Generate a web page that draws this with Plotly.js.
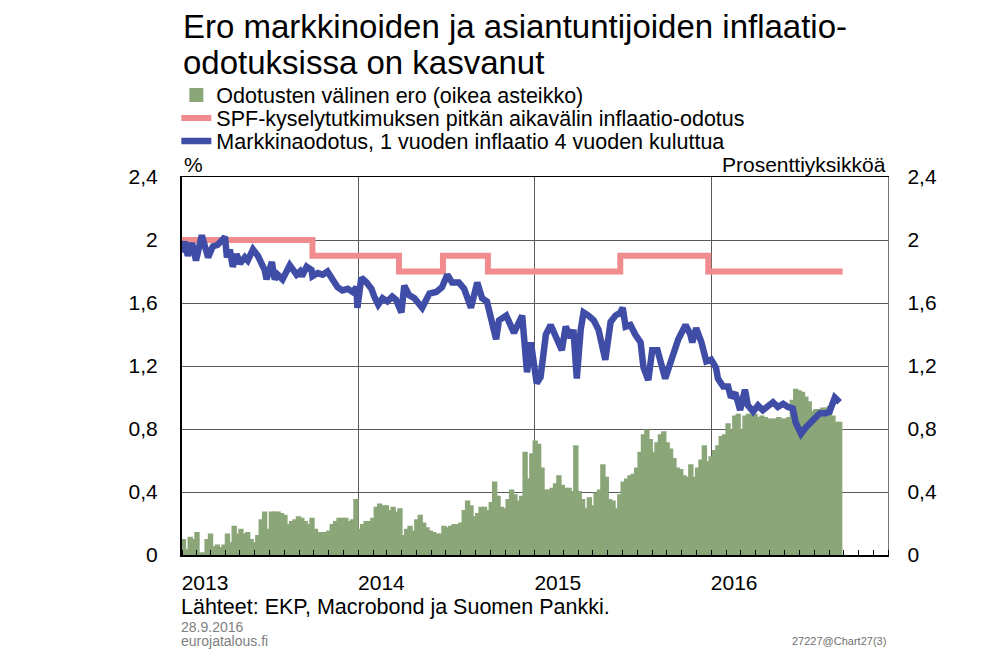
<!DOCTYPE html>
<html><head><meta charset="utf-8">
<script src="https://cdn.plot.ly/plotly-3.0.1.min.js"></script>
<style>html,body{margin:0;padding:0;background:#fff}#chart{width:1000px;height:653px}</style>
</head><body><div id="chart"></div>
<script>
// ---- Data ----
const seriesNames = [
  'Odotusten välinen ero (oikea asteikko)',
  'SPF-kyselytutkimuksen pitkän aikavälin inflaatio-odotus',
  'Markkinaodotus, 1 vuoden inflaatio 4 vuoden kuluttua'
];
const yearTickDates = ['2013-01-01', '2014-01-01', '2015-01-01', '2016-01-01'];
const yearTickLabels = ['2013', '2014', '2015', '2016'];
const valueTicks = [0, 0.4, 0.8, 1.2, 1.6, 2.0, 2.4];
const valueTickLabels = ['0', '0,4', '0,8', '1,2', '1,6', '2', '2,4'];

// Weekly gap between expectations (percentage points), first week centred on 2013-01-04
const gapFirstWeek = '2013-01-04';
const gapValues = [
  0.095,0.03,0.11,0.095,0.14,0.01,0.01,0.095,0.13,0.05,
  0.06,0.045,0.06,0.13,0.075,0.18,0.13,0.16,0.13,0.14,
  0.095,0.075,0.12,0.22,0.27,0.16,0.27,0.27,0.27,0.26,
  0.25,0.19,0.21,0.22,0.24,0.23,0.21,0.19,0.23,0.16,
  0.14,0.14,0.14,0.15,0.19,0.21,0.23,0.23,0.23,0.21,
  0.22,0.35,0.16,0.19,0.21,0.21,0.23,0.30,0.32,0.31,
  0.31,0.28,0.30,0.27,0.29,0.12,0.16,0.18,0.15,0.22,
  0.25,0.20,0.17,0.15,0.14,0.13,0.13,0.18,0.17,0.18,
  0.19,0.19,0.20,0.28,0.34,0.31,0.24,0.26,0.30,0.30,
  0.28,0.33,0.46,0.37,0.30,0.29,0.35,0.41,0.38,0.34,
  0.37,0.65,0.48,0.64,0.72,0.70,0.55,0.41,0.41,0.42,
  0.45,0.50,0.44,0.42,0.42,0.40,0.69,0.40,0.35,0.29,
  0.36,0.31,0.39,0.41,0.57,0.49,0.35,0.34,0.29,0.38,
  0.46,0.48,0.50,0.51,0.55,0.65,0.76,0.79,0.73,0.65,
  0.71,0.76,0.78,0.71,0.67,0.61,0.55,0.54,0.50,0.49,
  0.57,0.49,0.55,0.60,0.69,0.59,0.62,0.66,0.69,0.75,
  0.76,0.83,0.79,0.88,0.89,0.79,0.88,0.89,0.89,0.89,
  0.87,0.88,0.87,0.86,0.86,0.86,0.87,0.86,0.86,0.87,
  0.98,1.05,1.04,1.03,1.00,0.97,0.91,0.92,0.92,0.93,
  0.93,0.94,0.88,0.84,0.84
];

// SPF long-term inflation expectation (step series)
const spfDates = ['2013-01-01','2013-09-28','2014-03-26','2014-06-25','2014-09-26','2015-06-27','2015-12-26','2016-09-29'];
const spfValues = [2.0, 1.9, 1.8, 1.9, 1.8, 1.9, 1.8, 1.8];

// Market expectation: 1-year inflation 4 years ahead
const marketDates = [
  '2013-01-01','2013-01-07','2013-01-13','2013-01-22','2013-01-30','2013-02-11','2013-02-24','2013-03-06','2013-03-16','2013-03-31',
  '2013-04-04','2013-04-10','2013-04-16','2013-04-24','2013-05-01','2013-05-11','2013-05-17','2013-05-28','2013-06-07','2013-06-15',
  '2013-06-21','2013-06-25','2013-07-06','2013-07-12','2013-07-18','2013-07-28','2013-08-12','2013-08-26','2013-09-02','2013-09-06',
  '2013-09-16','2013-09-26','2013-09-28','2013-10-09','2013-10-19','2013-10-29','2013-11-09','2013-11-19','2013-11-29','2013-12-10',
  '2013-12-20','2013-12-28','2013-12-30','2014-01-07','2014-01-18','2014-01-28','2014-02-03','2014-02-11','2014-02-20','2014-03-02',
  '2014-03-12','2014-03-20','2014-03-31','2014-04-06','2014-04-16','2014-04-27','2014-05-13','2014-05-28','2014-06-11','2014-06-23',
  '2014-07-04','2014-07-14','2014-07-28','2014-08-08','2014-08-22','2014-09-04','2014-09-14','2014-09-24','2014-10-13','2014-10-19',
  '2014-11-03','2014-11-19','2014-12-06','2014-12-16','2014-12-24','2014-12-30','2015-01-05','2015-01-13','2015-01-24','2015-02-03',
  '2015-02-09','2015-02-20','2015-02-26','2015-03-06','2015-03-16','2015-03-22','2015-03-29','2015-04-06','2015-04-12','2015-04-22',
  '2015-05-03','2015-05-13','2015-05-27','2015-06-07','2015-06-17','2015-06-27','2015-07-02','2015-07-08','2015-07-18','2015-07-28',
  '2015-08-08','2015-08-14','2015-08-24','2015-09-01','2015-09-12','2015-09-28','2015-10-11','2015-10-25','2015-11-09','2015-11-19',
  '2015-11-23','2015-12-01','2015-12-12','2015-12-22','2016-01-01','2016-01-11','2016-01-15','2016-01-26','2016-02-05','2016-02-11',
  '2016-02-20','2016-03-01','2016-03-11','2016-03-17','2016-03-28','2016-04-07','2016-04-17','2016-04-28','2016-05-08','2016-05-18',
  '2016-05-29','2016-06-08','2016-06-18','2016-06-24','2016-07-05','2016-07-15','2016-07-29','2016-08-13','2016-08-25','2016-09-02',
  '2016-09-13','2016-09-23'
];
const marketValues = [
  1.92,1.99,1.90,1.98,1.87,2.03,1.89,1.96,1.97,2.02,
  1.89,1.94,1.83,1.91,1.85,1.89,1.87,1.94,1.90,1.84,
  1.81,1.75,1.86,1.75,1.78,1.75,1.84,1.78,1.80,1.77,
  1.83,1.81,1.77,1.79,1.78,1.80,1.75,1.70,1.68,1.69,
  1.67,1.70,1.57,1.76,1.73,1.69,1.64,1.59,1.63,1.61,
  1.64,1.62,1.54,1.71,1.65,1.63,1.57,1.66,1.67,1.70,
  1.78,1.73,1.73,1.69,1.57,1.73,1.63,1.61,1.37,1.49,
  1.52,1.41,1.52,1.16,1.35,1.24,1.09,1.13,1.40,1.46,
  1.42,1.35,1.30,1.45,1.38,1.43,1.12,1.43,1.54,1.52,
  1.49,1.43,1.24,1.48,1.52,1.54,1.57,1.45,1.46,1.40,
  1.35,1.19,1.11,1.30,1.30,1.12,1.24,1.37,1.46,1.40,
  1.35,1.44,1.35,1.23,1.24,1.19,1.12,1.07,1.07,1.00,
  1.03,0.92,1.05,0.95,0.91,0.95,0.92,0.95,0.97,0.94,
  0.96,0.94,0.93,0.84,0.77,0.81,0.86,0.90,0.90,0.91,
  1.00,0.97
];

// ---- Build ----
const WEEK_MS = 7 * 24 * 3600 * 1000;
const gapStart = Date.parse(gapFirstWeek + 'T00:00:00Z');
const gapDates = gapValues.map((_, i) => new Date(gapStart + i * WEEK_MS).toISOString().slice(0, 10));

const FONT = '"Liberation Sans", Arial, Helvetica, sans-serif';
const GREEN = '#8ba678', PINK = '#f08c8e', BLUE = '#3f4da6';

const traces = [
  {
    type: 'bar', name: seriesNames[0], x: gapDates, y: gapValues,
    width: WEEK_MS, xaxis: 'x', yaxis: 'y',
    marker: {color: GREEN, line: {color: GREEN, width: 2}},
    legend: 'legend', hoverinfo: 'x+y'
  },
  {
    type: 'scatter', mode: 'lines', name: seriesNames[1], x: spfDates, y: spfValues,
    xaxis: 'x', yaxis: 'y2', line: {color: PINK, width: 6, shape: 'hv'},
    legend: 'legend2'
  },
  {
    type: 'scatter', mode: 'lines', name: seriesNames[2], x: marketDates, y: marketValues,
    xaxis: 'x', yaxis: 'y2', line: {color: BLUE, width: 6.5, shape: 'linear'},
    legend: 'legend3'
  }
];

const legendBase = {
  x: -0.008, xanchor: 'left', yanchor: 'middle',
  font: {family: FONT, size: 21.5, color: '#000'},
  bgcolor: 'rgba(0,0,0,0)', borderwidth: 0
};

const layout = {
  width: 1000, height: 653,
  margin: {l: 182, r: 112, t: 177, b: 98},
  paper_bgcolor: '#fff', plot_bgcolor: '#fff',
  font: {family: FONT, size: 21, color: '#000'},
  separators: ', ',
  bargap: 0,
  title: {
    text: '<span style="font-size:33px">Ero markkinoiden ja asiantuntijoiden inflaatio-</span><br><span style="font-size:33px">odotuksissa on kasvanut</span>',
    font: {family: FONT, size: 27.7, color: '#000'},
    xref: 'container', yref: 'container', x: 0.183, xanchor: 'left', y: 0.9425, yanchor: 'top'
  },
  showlegend: true,
  legend: Object.assign({}, legendBase, {y: 1.217}),
  legend2: Object.assign({}, legendBase, {y: 1.156}),
  legend3: Object.assign({}, legendBase, {y: 1.095}),
  xaxis: {
    type: 'date', range: ['2013-01-01', '2017-01-01'],
    tickvals: yearTickDates, ticktext: yearTickLabels,
    ticks: '', ticklabelshift: 23, ticklabelstandoff: 8,
    tickfont: {family: FONT, size: 21, color: '#000'},
    showgrid: true, gridcolor: '#5a5a5a', gridwidth: 1,
    showline: true, linecolor: '#000', linewidth: 1.5, mirror: true,
    zeroline: false, fixedrange: true,
    minor: {dtick: 'M1', tick0: '2013-01-01', ticks: 'inside', ticklen: 5, tickwidth: 1, tickcolor: '#000', showgrid: false}
  },
  yaxis: {
    side: 'right', range: [0, 2.4],
    tickvals: valueTicks, ticktext: valueTickLabels,
    ticks: '', ticklabelstandoff: 14,
    tickfont: {family: FONT, size: 21, color: '#000'},
    showgrid: true, gridcolor: '#5a5a5a', gridwidth: 1,
    showline: true, linecolor: '#777', linewidth: 1.2,
    zeroline: false, fixedrange: true
  },
  yaxis2: {
    side: 'left', overlaying: 'y', range: [0, 2.4],
    tickvals: valueTicks, ticktext: valueTickLabels,
    ticks: '', ticklabelstandoff: 18,
    tickfont: {family: FONT, size: 21, color: '#000'},
    showgrid: false, showline: true, linecolor: '#000', linewidth: 2,
    zeroline: false, fixedrange: true
  },
  annotations: [
    {text: '%', xref: 'paper', yref: 'paper', x: 0, xanchor: 'left', y: 1.032, yanchor: 'middle', showarrow: false, font: {family: FONT, size: 21, color: '#000'}},
    {text: 'Prosenttiyksikköä', xref: 'paper', yref: 'paper', x: 1.0, xanchor: 'right', y: 1.032, yanchor: 'middle', showarrow: false, font: {family: FONT, size: 21, color: '#000'}},
    {text: 'Lähteet: EKP, Macrobond ja Suomen Pankki.', xref: 'paper', yref: 'paper', x: -0.004, xanchor: 'left', y: -0.138, yanchor: 'middle', showarrow: false, font: {family: FONT, size: 21.5, color: '#000'}},
    {text: '28.9.2016', xref: 'paper', yref: 'paper', x: -0.004, xanchor: 'left', y: -0.19, yanchor: 'middle', showarrow: false, font: {family: FONT, size: 14, color: '#808080'}},
    {text: 'eurojatalous.fi', xref: 'paper', yref: 'paper', x: -0.004, xanchor: 'left', y: -0.228, yanchor: 'middle', showarrow: false, font: {family: FONT, size: 14, color: '#808080'}},
    {text: '27227@Chart27(3)', xref: 'paper', yref: 'paper', x: 1.0, xanchor: 'right', y: -0.228, yanchor: 'middle', showarrow: false, font: {family: FONT, size: 11, color: '#707070'}}
  ]
};

Plotly.newPlot('chart', traces, layout, {displayModeBar: false, staticPlot: true});
</script></body></html>
